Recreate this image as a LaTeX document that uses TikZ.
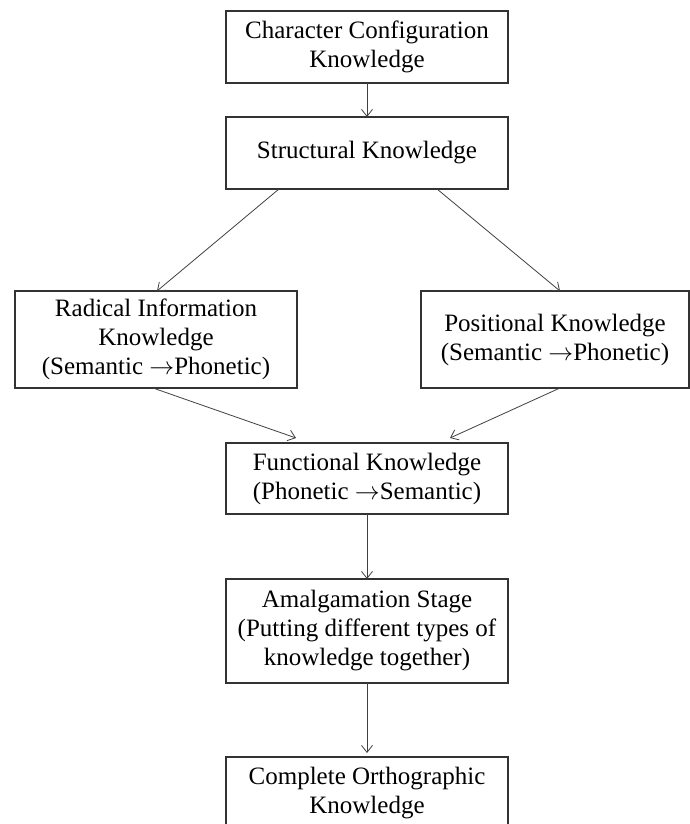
\documentclass[tikz,border=0pt]{standalone}
\usepackage{fontspec}
\setmainfont{Liberation Serif}
\usepackage{tikz}
\usetikzlibrary{arrows.meta, positioning}

\begin{document}
\begin{tikzpicture}[
x=1pt, y=-1pt,
node distance=34pt,
every node/.style={
draw=black!80,
line width=1.1pt,
rectangle,
align=center,
minimum width=282pt,
minimum height=72pt,
font=\fontsize{25}{29}\selectfont,
inner sep=2pt,
outer sep=0pt
},
arrow/.style={-{Straight Barb[length=7pt,width=11pt]}, line width=0.8pt, draw=black!75}
]
\useasboundingbox (0,0) rectangle (690,824);

\node (config) at (367,47) {Character Configuration\\Knowledge};
\node (struct) [below=of config] {Structural Knowledge};

\node (radical) [below=102pt of struct, xshift=-211pt, minimum height=97pt] {Radical Information\\Knowledge\\(Semantic $\rightarrow$Phonetic)};
\node (position) [below=102pt of struct, xshift=188pt, minimum width=268pt, minimum height=97pt] {Positional Knowledge\\(Semantic $\rightarrow$Phonetic)};

\node (func) [below=254pt of struct, minimum height=71pt] {Functional Knowledge\\(Phonetic $\rightarrow$Semantic)};
\node (amalg) [below=65pt of func, minimum height=104pt] {Amalgamation Stage\\(Putting different types of\\knowledge together)};
\node (complete) [below=74pt of amalg] {Complete Orthographic\\Knowledge};

\draw[arrow] (config) -- (struct);

\draw[arrow] ([xshift=53pt]struct.south west) -- ([xshift=1pt]radical.north);
\draw[arrow] ([xshift=-71pt]struct.south east) -- ([xshift=5pt]position.north);

\draw[arrow] ([xshift=-3pt]radical.south) -- ([xshift=70pt,yshift=5pt]func.north west);
\draw[arrow] ([xshift=5pt]position.south) -- ([xshift=-58pt,yshift=5pt]func.north east);

\draw[arrow] (func) -- (amalg);
\draw[arrow, shorten >=4pt] (amalg) -- (complete);

\end{tikzpicture}
\end{document}
